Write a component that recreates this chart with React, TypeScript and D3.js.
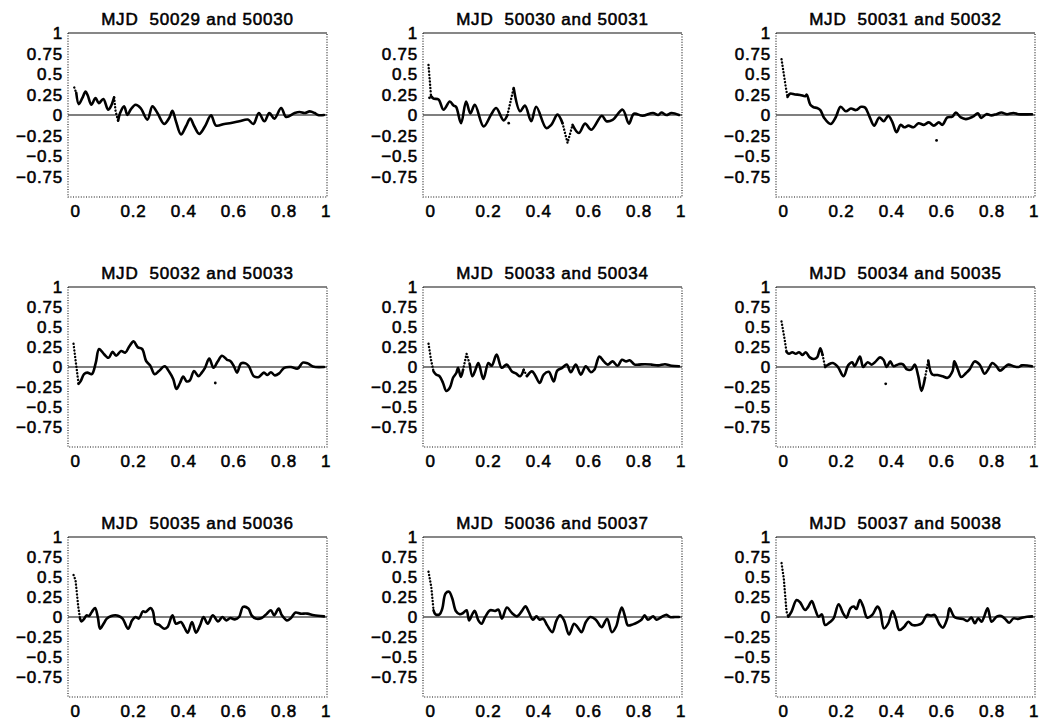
import React from "react";
import * as d3 from "d3";

// Cross-correlation of consecutive nights, lag in units of the light-curve span
const mjdPairs: [number, number][] = [
  [50029, 50030], [50030, 50031], [50031, 50032],
  [50032, 50033], [50033, 50034], [50034, 50035],
  [50035, 50036], [50036, 50037], [50037, 50038],
];

const lagTicks = [0, 0.2, 0.4, 0.6, 0.8, 1];
const corrTicks = [1, 0.75, 0.5, 0.25, 0, -0.25, -0.5, -0.75];

// [lag, correlation]
const cc29: [number, number][] = [[0.003,0.335],[0.011,0.27],[0.021,0.133],[0.035,0.205],[0.048,0.286],[0.057,0.238],[0.071,0.125],[0.088,0.206],[0.101,0.145],[0.119,0.194],[0.138,0.065],[0.151,0.117],[0.162,0.214],[0.168,0.044],[0.178,-0.069],[0.186,0.024],[0.202,0.105],[0.215,0],[0.228,0.065],[0.248,0.125],[0.268,0.085],[0.295,-0.056],[0.315,0.105],[0.335,0.024],[0.362,-0.109],[0.382,-0.036],[0.395,0.052],[0.409,-0.077],[0.429,-0.238],[0.449,-0.137],[0.466,-0.044],[0.482,-0.137],[0.502,-0.23],[0.525,-0.137],[0.549,-0.004],[0.569,-0.129],[0.602,-0.109],[0.629,-0.097],[0.662,-0.077],[0.696,-0.056],[0.718,-0.109],[0.74,0.024],[0.762,-0.077],[0.782,0.024],[0.802,-0.044],[0.829,0.085],[0.849,-0.024],[0.883,0.024],[0.903,0.036],[0.923,0.024],[0.943,0.044],[0.963,0.024],[0.976,0],[1,0]];
const cc30: [number, number][] = [[0,0.61],[0.01,0.23],[0.02,0.2],[0.04,0.19],[0.06,0.065],[0.085,0.165],[0.1,0.115],[0.11,0.1],[0.13,-0.1],[0.15,0.165],[0.167,0.02],[0.185,0.125],[0.22,-0.14],[0.25,0.005],[0.27,0.085],[0.3,-0.065],[0.315,0],[0.34,0.33],[0.366,0.045],[0.385,0.115],[0.41,-0.075],[0.43,0.1],[0.47,-0.16],[0.49,-0.12],[0.515,0.005],[0.535,-0.1],[0.555,-0.34],[0.575,-0.12],[0.6,-0.22],[0.625,-0.105],[0.65,-0.18],[0.692,-0.01],[0.71,-0.075],[0.735,-0.06],[0.775,0.065],[0.8,-0.105],[0.82,0.015],[0.855,-0.01],[0.896,0.025],[0.917,0],[0.93,0.03],[0.95,0],[0.97,0.025],[1,0]];
const cc31: [number, number][] = [[0,0.68],[0.016,0.36],[0.024,0.22],[0.034,0.26],[0.054,0.25],[0.074,0.245],[0.095,0.23],[0.101,0.248],[0.115,0.125],[0.128,0.095],[0.142,0.085],[0.155,0.06],[0.17,-0.035],[0.196,-0.11],[0.216,-0.03],[0.236,0.1],[0.257,0.045],[0.277,0.08],[0.297,0.06],[0.318,0.1],[0.334,0.09],[0.35,-0.01],[0.37,-0.13],[0.39,-0.03],[0.408,-0.077],[0.426,-0.01],[0.443,-0.09],[0.459,-0.21],[0.476,-0.12],[0.49,-0.15],[0.507,-0.13],[0.527,-0.15],[0.547,-0.1],[0.568,-0.12],[0.588,-0.09],[0.608,-0.13],[0.628,-0.09],[0.642,-0.12],[0.662,-0.03],[0.682,-0.02],[0.696,0.03],[0.716,-0.03],[0.736,-0.05],[0.764,-0.02],[0.784,0.02],[0.797,-0.035],[0.818,0.01],[0.838,-0.005],[0.858,0.01],[0.878,0.03],[0.9,0.01],[0.926,0.025],[0.946,0.01],[1,0.01]];
const cc32: [number, number][] = [[0,0.29],[0.02,-0.21],[0.028,-0.18],[0.042,-0.09],[0.055,-0.07],[0.073,-0.09],[0.089,0.055],[0.102,0.225],[0.122,0.16],[0.14,0.115],[0.156,0.19],[0.17,0.14],[0.19,0.2],[0.207,0.18],[0.223,0.26],[0.24,0.32],[0.257,0.245],[0.274,0.225],[0.29,0.075],[0.306,0.02],[0.324,-0.09],[0.341,-0.05],[0.364,0.01],[0.382,-0.06],[0.398,-0.15],[0.411,-0.275],[0.425,-0.2],[0.438,-0.12],[0.452,-0.18],[0.465,-0.165],[0.481,-0.05],[0.499,-0.115],[0.512,-0.07],[0.525,-0.01],[0.542,0.105],[0.559,-0.01],[0.575,0.065],[0.593,0.14],[0.613,0.09],[0.626,0.075],[0.64,0.01],[0.653,-0.07],[0.669,0.045],[0.687,0.045],[0.7,0.01],[0.72,-0.115],[0.74,-0.125],[0.76,-0.07],[0.774,-0.1],[0.788,-0.065],[0.804,-0.105],[0.821,-0.08],[0.841,-0.01],[0.868,0],[0.895,-0.02],[0.915,0.055],[0.935,0.045],[0.956,0.005],[1,0]];
const cc33: [number, number][] = [[0,0.29],[0.01,0.09],[0.02,-0.055],[0.03,-0.095],[0.044,-0.115],[0.058,-0.2],[0.071,-0.3],[0.085,-0.26],[0.098,-0.135],[0.111,-0.075],[0.118,-0.01],[0.129,-0.125],[0.138,-0.035],[0.152,0.165],[0.165,0.03],[0.175,-0.115],[0.185,-0.055],[0.199,0.05],[0.219,-0.15],[0.239,0.05],[0.252,0.015],[0.272,0.155],[0.292,-0.01],[0.312,0.03],[0.333,-0.055],[0.349,-0.08],[0.366,-0.115],[0.38,-0.035],[0.393,-0.115],[0.413,-0.055],[0.426,-0.105],[0.444,-0.2],[0.46,-0.095],[0.48,-0.06],[0.5,-0.18],[0.514,-0.045],[0.534,-0.01],[0.552,0.03],[0.568,-0.065],[0.588,0.03],[0.608,-0.095],[0.628,0.01],[0.648,-0.065],[0.662,-0.035],[0.682,0.13],[0.7,0.07],[0.716,0.03],[0.735,0.07],[0.755,0.015],[0.772,0.09],[0.789,0.07],[0.803,0.085],[0.823,0.03],[0.839,0.03],[0.864,0.035],[0.89,0.03],[0.917,0.02],[0.944,0.035],[0.97,0.015],[1,0.01]];
const cc34: [number, number][] = [[0,0.57],[0.012,0.355],[0.02,0.19],[0.03,0.165],[0.043,0.185],[0.057,0.165],[0.07,0.185],[0.084,0.15],[0.097,0.185],[0.113,0.12],[0.128,0.1],[0.142,0.12],[0.155,0.235],[0.164,0.15],[0.174,0],[0.187,0.03],[0.205,0.05],[0.225,0],[0.248,-0.115],[0.266,0.02],[0.282,0.06],[0.292,0.01],[0.313,0.13],[0.326,0],[0.344,0.06],[0.36,0.03],[0.373,0.06],[0.394,0.12],[0.407,0.09],[0.42,0],[0.434,0.07],[0.447,0.01],[0.468,0.035],[0.484,0.035],[0.501,-0.03],[0.519,-0.03],[0.532,0.03],[0.546,-0.115],[0.559,-0.3],[0.573,-0.135],[0.586,0.08],[0.602,-0.095],[0.623,-0.1],[0.643,-0.115],[0.663,-0.135],[0.683,-0.05],[0.69,0.07],[0.704,-0.03],[0.717,-0.125],[0.737,-0.075],[0.751,-0.03],[0.771,0.07],[0.791,0.03],[0.811,-0.085],[0.825,-0.03],[0.842,0.05],[0.858,0.01],[0.872,-0.045],[0.892,0],[0.906,0.03],[0.926,0.01],[0.946,0],[0.96,0.02],[1,0.01]];
const cc35: [number, number][] = [[0,0.525],[0.008,0.46],[0.019,0.125],[0.026,-0.02],[0.032,-0.055],[0.043,-0.02],[0.052,0.02],[0.062,0.013],[0.073,0.063],[0.086,0.113],[0.097,0],[0.106,-0.147],[0.12,-0.084],[0.133,-0.02],[0.151,0.013],[0.167,0.021],[0.18,0.013],[0.196,-0.02],[0.218,-0.147],[0.234,-0.042],[0.247,0],[0.261,-0.02],[0.277,0.071],[0.288,0.063],[0.308,0.113],[0.317,0.071],[0.328,-0.084],[0.341,-0.097],[0.362,-0.147],[0.375,-0.126],[0.395,0.021],[0.409,-0.084],[0.429,-0.063],[0.442,-0.126],[0.456,-0.197],[0.473,-0.063],[0.489,-0.197],[0.505,-0.105],[0.519,0],[0.536,-0.084],[0.556,0.021],[0.577,-0.055],[0.594,0],[0.61,-0.042],[0.626,-0.013],[0.644,-0.03],[0.661,0],[0.677,0.126],[0.698,0.105],[0.711,0.021],[0.728,-0.02],[0.751,-0.013],[0.772,0.042],[0.788,0.084],[0.801,0.021],[0.819,0.105],[0.832,0.021],[0.852,-0.042],[0.868,-0.013],[0.886,0.055],[0.906,0.042],[0.933,0.042],[0.96,0.021],[1,0.008]];
const cc36: [number, number][] = [[0,0.567],[0.011,0.378],[0.02,0.084],[0.028,0.034],[0.044,0.034],[0.055,0.105],[0.068,0.294],[0.082,0.315],[0.095,0.231],[0.109,0.076],[0.125,0.034],[0.138,0.05],[0.152,0.084],[0.162,-0.042],[0.176,0.042],[0.185,0.076],[0.199,-0.042],[0.212,-0.084],[0.226,0],[0.246,0.084],[0.266,0.076],[0.279,0.092],[0.293,-0.021],[0.313,0.118],[0.333,0.05],[0.353,0.008],[0.373,0.076],[0.387,0.134],[0.4,0.063],[0.417,-0.034],[0.431,0.008],[0.444,-0.034],[0.458,-0.021],[0.474,-0.105],[0.494,-0.189],[0.511,-0.042],[0.525,0.021],[0.541,-0.042],[0.561,-0.218],[0.581,-0.084],[0.595,-0.126],[0.611,-0.189],[0.628,-0.063],[0.646,0],[0.668,-0.034],[0.691,-0.126],[0.713,-0.021],[0.732,-0.189],[0.749,-0.118],[0.762,0.042],[0.772,0.118],[0.785,0],[0.796,-0.105],[0.816,-0.092],[0.836,-0.063],[0.85,-0.034],[0.863,0.021],[0.876,-0.034],[0.897,0.008],[0.91,-0.034],[0.93,0],[0.95,0.029],[0.964,0],[0.984,0],[1,0]];
const cc37: [number, number][] = [[0,0.674],[0.009,0.485],[0.02,0.067],[0.027,0.004],[0.04,0.067],[0.06,0.213],[0.074,0.184],[0.094,0.088],[0.107,0.13],[0.121,0.2],[0.134,0.1],[0.148,0.004],[0.161,0.033],[0.174,-0.1],[0.195,-0.059],[0.208,-0.017],[0.228,0.159],[0.246,0.046],[0.259,-0.008],[0.275,0.109],[0.289,0.13],[0.299,0.1],[0.313,0.213],[0.326,0.13],[0.342,-0.008],[0.362,0.025],[0.383,0.13],[0.393,0.088],[0.409,-0.142],[0.426,-0.079],[0.443,0.075],[0.456,-0.017],[0.47,-0.163],[0.49,-0.121],[0.506,-0.059],[0.523,-0.1],[0.544,-0.1],[0.56,-0.079],[0.581,0.025],[0.597,0.017],[0.611,0.025],[0.631,-0.092],[0.644,-0.134],[0.662,-0.017],[0.671,0.109],[0.689,0.004],[0.705,-0.017],[0.725,-0.025],[0.742,-0.05],[0.758,-0.008],[0.772,-0.079],[0.785,-0.017],[0.799,-0.059],[0.809,0.004],[0.823,0.109],[0.839,-0.059],[0.859,0.004],[0.877,0.013],[0.893,-0.025],[0.909,-0.071],[0.926,-0.017],[0.944,-0.025],[0.96,-0.008],[0.98,0.004],[1,0.008]];

// Lag ranges where the sampling is sparse and the curve shows as separate dots
const sparse29: [number, number][] = [[0, 0.011], [0.162, 0.178]];
const sparse30: [number, number][] = [[0, 0.01], [0.315, 0.34], [0.535, 0.575]];
const sparse31: [number, number][] = [[0, 0.024]];
const sparse32: [number, number][] = [[0, 0.02]];
const sparse33: [number, number][] = [[0, 0.02], [0.138, 0.165], [0.38, 0.393]];
const sparse34: [number, number][] = [[0, 0.02], [0.164, 0.174], [0.573, 0.586]];
const sparse35: [number, number][] = [[0, 0.026]];
const sparse36: [number, number][] = [[0, 0.02]];
const sparse37: [number, number][] = [[0, 0.027]];

// Isolated samples off the main curve
const stray30: [number, number][] = [[0.32, -0.1], [0.004, 0.21]];
const stray31: [number, number][] = [[0.619, -0.31]];
const stray32: [number, number][] = [[0.566, -0.2]];
const stray34: [number, number][] = [[0.416, -0.21]];

const curves = [cc29, cc30, cc31, cc32, cc33, cc34, cc35, cc36, cc37];
const sparse = [sparse29, sparse30, sparse31, sparse32, sparse33, sparse34, sparse35, sparse36, sparse37];
const strays: [number, number][][] = [[], stray30, stray31, stray32, [], stray34, [], [], []];

const W = 1047;
const H = 723;
const colX = [68, 423, 776];
const colW = 259;
const rowY = [33, 287, 537];
const rowH = [164, 160, 160];

const FONT = "'Liberation Sans', Arial, Helvetica, sans-serif";
const textStyle: React.CSSProperties = {
  fontFamily: FONT,
  fontSize: 17,
  letterSpacing: 0.8,
  fill: "#000",
  stroke: "#000",
  strokeWidth: 0.55,
};

function splitRuns(pts: [number, number][], ranges: [number, number][]) {
  const out: { dotted: boolean; pts: [number, number][] }[] = [];
  let cur: { dotted: boolean; pts: [number, number][] } | null = null;
  for (let i = 0; i < pts.length - 1; i++) {
    const mid = (pts[i][0] + pts[i + 1][0]) / 2;
    const dotted = ranges.some(([a, b]) => mid >= a && mid <= b);
    if (!cur || cur.dotted !== dotted) {
      cur = { dotted, pts: [pts[i]] };
      out.push(cur);
    }
    cur.pts.push(pts[i + 1]);
  }
  return out;
}

const fmt = (v: number) => String(v).replace("-", "\u2212");

function Panel({ idx }: { idx: number }) {
  const col = idx % 3;
  const row = Math.floor(idx / 3);
  const left = colX[col];
  const top = rowY[row];
  const w = colW;
  const h = rowH[row];
  const x = d3.scaleLinear().domain([-0.022, 1.012]).range([left, left + w]);
  const y = d3.scaleLinear().domain([-1, 1]).range([top + h, top]);
  const smooth = d3
    .line<[number, number]>()
    .x((d) => x(d[0]))
    .y((d) => y(d[1]))
    .curve(d3.curveCatmullRom.alpha(0.5));
  const straight = d3.line<[number, number]>().x((d) => x(d[0])).y((d) => y(d[1]));
  const runs = splitRuns(curves[idx], sparse[idx]);
  const [a, b] = mjdPairs[idx];
  return (
    <g>
      <text x={left + w / 2} y={top - 8} textAnchor="middle" style={{ ...textStyle, whiteSpace: "pre" }}>
        {`MJD  ${a} and ${b}`}
      </text>
      {/* frame */}
      <line x1={left} x2={left + w} y1={top} y2={top} stroke="#111" strokeWidth={1.1} />
      <path
        d={`M${left},${top}V${top + h}H${left + w}V${top}`}
        fill="none"
        stroke="#111"
        strokeWidth={1.1}
        strokeDasharray="1 1.6"
      />
      {/* zero line */}
      <line x1={left} x2={left + w} y1={y(0)} y2={y(0)} stroke="#000" strokeWidth={1.1} />
      {corrTicks.map((v) => (
        <text key={v} x={left - 5} y={y(v)} dy="0.36em" textAnchor="end" style={textStyle}>
          {fmt(v)}
        </text>
      ))}
      {lagTicks.map((v) => (
        <text key={v} x={x(v) - 3} y={top + h + 20} textAnchor="start" style={textStyle}>
          {fmt(v)}
        </text>
      ))}
      {runs.map((r, i) =>
        r.dotted ? (
          <path
            key={i}
            d={straight(r.pts) || ""}
            fill="none"
            stroke="#000"
            strokeWidth={2.4}
            strokeLinecap="round"
            strokeDasharray="0.1 3.2"
          />
        ) : (
          <path
            key={i}
            d={smooth(r.pts) || ""}
            fill="none"
            stroke="#000"
            strokeWidth={2.6}
            strokeLinejoin="round"
            strokeLinecap="round"
          />
        )
      )}
      {strays[idx].map((p, i) => (
        <circle key={i} cx={x(p[0])} cy={y(p[1])} r={1.4} fill="#000" />
      ))}
    </g>
  );
}

export default function App() {
  return (
    <svg
      width={W}
      height={H}
      viewBox={`0 0 ${W} ${H}`}
      style={{ position: "absolute", left: 0, top: 0, background: "#fff" }}
    >
      <rect width={W} height={H} fill="#fff" />
      {curves.map((_, i) => (
        <Panel key={i} idx={i} />
      ))}
    </svg>
  );
}
